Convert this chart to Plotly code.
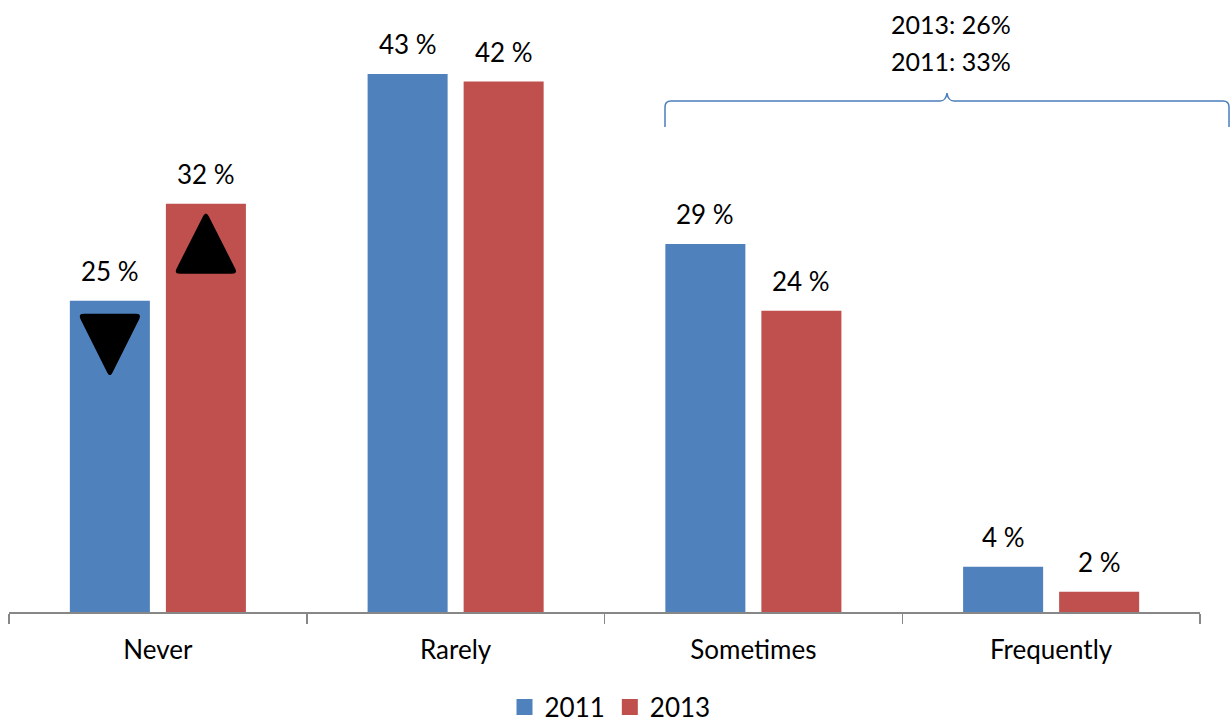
import plotly.graph_objects as go

# ---------------- data ----------------
categories = ["Never", "Rarely", "Sometimes", "Frequently"]
series_names = ["2011", "2013"]
values_2011 = [24.7, 42.7, 29.2, 3.6]
values_2013 = [32.4, 42.1, 23.9, 1.6]
summary_lines = ["2013: 26%", "2011: 33%"]

# ---------------- style ----------------
BLUE = "#4F81BD"
RED = "#C0504D"
AXIS_GRAY = "#878787"
FONT = "Lato"
W, H = 1231, 722
ML, MR, MT, MB = 9, 31, 0, 110
PW, PH = W - ML - MR, H - MT - MB
PX_PER_PCT = 12.6
YMAX = PH / PX_PER_PCT
BARGAP = 0.355
BARGROUPGAP = 1 / 6
CAT_PX = PW / len(categories)
SLOT_PX = (1 - BARGAP) * CAT_PX / 2
BAR_OFFSET = SLOT_PX / 2  # px offset of each bar centre from category centre

fig = go.Figure()
for name, vals, col in [(series_names[0], values_2011, BLUE),
                        (series_names[1], values_2013, RED)]:
    fig.add_bar(x=categories, y=vals, name=name, showlegend=False,
                marker=dict(color=col, line=dict(width=0)))
    # legend entry with a larger square swatch
    fig.add_scatter(x=[None], y=[None], mode="markers", name=name,
                    marker=dict(symbol="square", size=16, color=col))

# data labels
annotations = []
for vals, sign in [(values_2011, -1), (values_2013, 1)]:
    for c, v in zip(categories, vals):
        annotations.append(dict(
            x=c, y=v, xref="x", yref="y", text=f"{v:.0f} %", showarrow=False,
            xshift=sign * BAR_OFFSET, yshift=12, yanchor="bottom", xanchor="center",
            font=dict(family=FONT, size=26, color="black")))

def to_paper(px, py):
    """figure pixel -> paper coordinates"""
    return (px - ML) / PW, (H - MB - py) / PH

# summary text above the bracket
for line, py in zip(summary_lines, [24, 61]):
    xp, yp = to_paper(951, py)
    annotations.append(dict(x=xp, y=yp, xref="paper", yref="paper", text=line,
                            showarrow=False, xanchor="center", yanchor="middle",
                            font=dict(family=FONT, size=25, color="black")))

# curly bracket (decoration) in paper coordinates
def P(px, py):
    x, y = to_paper(px, py)
    return f"{x:.5f},{y:.5f}"

bracket = (f"M{P(665,127)} L{P(665,107)} Q{P(665,101)} {P(671,101)} "
           f"L{P(940,101)} Q{P(946,101)} {P(947,93)} Q{P(948,101)} {P(954,101)} "
           f"L{P(1223,101)} Q{P(1229,101)} {P(1229,107)} L{P(1229,127)}")

shapes = [dict(type="path", xref="paper", yref="paper", path=bracket,
               line=dict(color="#4A7EBB", width=1.5))]

# rounded triangles (pixel offsets anchored at the bar tops)
def rounded_path(pts, r):
    n = len(pts)
    def towards(a, b, d):
        dx, dy = b[0] - a[0], b[1] - a[1]
        L = (dx * dx + dy * dy) ** 0.5
        return (a[0] + dx * d / L, a[1] + dy * d / L)
    parts = []
    for i in range(n):
        Pp, V, N = pts[i - 1], pts[i], pts[(i + 1) % n]
        A, B = towards(V, Pp, r), towards(V, N, r)
        cmd = "M" if i == 0 else "L"
        parts.append(f"{cmd}{A[0]:.2f},{A[1]:.2f} Q{V[0]:.2f},{V[1]:.2f} {B[0]:.2f},{B[1]:.2f}")
    return " ".join(parts) + " Z"

down_tri = [(-BAR_OFFSET - 32, -13), (-BAR_OFFSET + 32, -13), (-BAR_OFFSET, -77)]
up_tri = [(BAR_OFFSET - 32, -70), (BAR_OFFSET + 32, -70), (BAR_OFFSET, -7)]
shapes.append(dict(type="path", xref="x", yref="y", xsizemode="pixel", ysizemode="pixel",
                   xanchor=categories[0], yanchor=values_2011[0],
                   path=rounded_path(down_tri, 6), fillcolor="black", line=dict(width=0)))
shapes.append(dict(type="path", xref="x", yref="y", xsizemode="pixel", ysizemode="pixel",
                   xanchor=categories[0], yanchor=values_2013[0],
                   path=rounded_path(up_tri, 6), fillcolor="black", line=dict(width=0)))

fig.update_layout(
    width=W, height=H,
    margin=dict(l=ML, r=MR, t=MT, b=MB, autoexpand=False),
    paper_bgcolor="white", plot_bgcolor="white",
    barmode="group", bargap=BARGAP, bargroupgap=BARGROUPGAP,
    font=dict(family=FONT, size=26, color="black"),
    xaxis=dict(type="category", range=[-0.5, 3.5], showline=True, linecolor=AXIS_GRAY,
               linewidth=1.5, ticks="outside", tickson="boundaries", ticklen=10,
               tickcolor=AXIS_GRAY, tickwidth=1.5, showgrid=False, ticklabelstandoff=14,
               tickfont=dict(family=FONT, size=26, color="black")),
    yaxis=dict(visible=False, range=[0, YMAX], showgrid=False, zeroline=False),
    showlegend=True,
    legend=dict(orientation="h", x=(610 - ML) / PW, xanchor="center",
                y=-(707 - (H - MB)) / PH, yanchor="middle", itemsizing="trace",
                font=dict(family=FONT, size=26, color="black"),
                bgcolor="rgba(0,0,0,0)"),
    annotations=annotations,
    shapes=shapes,
)

# remove the browser's default 8px page margin so the figure fills the window
PAGE_CSS_JS = ("document.body.style.margin='0';"
               "document.body.style.overflow='hidden';"
               "document.documentElement.style.overflow='hidden';")
fig.write_html("out.html", post_script=PAGE_CSS_JS,
               config={"displayModeBar": False, "staticPlot": True})
